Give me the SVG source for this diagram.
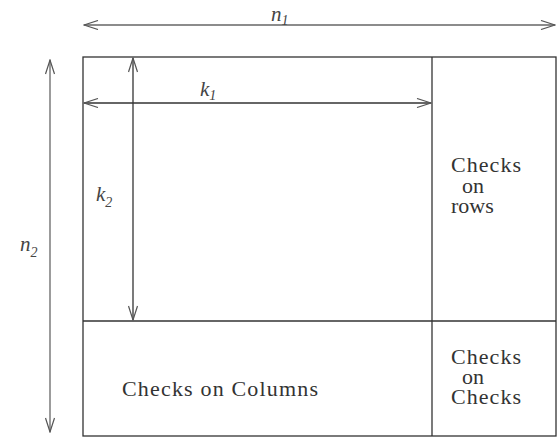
<svg xmlns="http://www.w3.org/2000/svg" width="558" height="440" viewBox="0 0 558 440">
<defs>
<marker id="ah" markerWidth="16" markerHeight="10" refX="15" refY="5" orient="auto-start-reverse" markerUnits="userSpaceOnUse">
<path d="M1,0.5 L15,5 L1,9.5" fill="none" stroke="#555" stroke-width="1.2"/>
</marker>
</defs>
<rect width="558" height="440" fill="#fff"/>
<g id="matrix" fill="none" stroke="#333" stroke-width="1.3">
<rect x="83" y="57" width="473" height="379"/>
<line x1="432" y1="57" x2="432" y2="436"/>
<line x1="83" y1="321" x2="556" y2="321"/>
</g>
<g id="rows" font-family="Liberation Serif, Times New Roman, serif" font-size="22" fill="#333">
<text x="451" y="172"><tspan textLength="70">Checks</tspan><tspan x="462" y="193">on</tspan><tspan x="451" y="213">rows</tspan></text>
</g>
<g id="columns" font-family="Liberation Serif, Times New Roman, serif" font-size="22" fill="#333">
<text x="122" y="396" textLength="196">Checks on Columns</text>
</g>
<g id="checks" font-family="Liberation Serif, Times New Roman, serif" font-size="22" fill="#333">
<text x="451" y="364"><tspan textLength="70">Checks</tspan><tspan x="462" y="384">on</tspan><tspan x="451" y="404" textLength="70">Checks</tspan></text>
</g>
<g id="connectors" fill="none" stroke-width="1.3">
<line stroke="#666" x1="84" y1="25" x2="555" y2="25" marker-start="url(#ah)" marker-end="url(#ah)"/>
<line stroke="#666" x1="50" y1="60" x2="50" y2="432" marker-start="url(#ah)" marker-end="url(#ah)"/>
<line stroke="#333" x1="84" y1="103" x2="431" y2="103" marker-start="url(#ah)" marker-end="url(#ah)"/>
<line stroke="#333" x1="133" y1="58" x2="133" y2="320" marker-start="url(#ah)" marker-end="url(#ah)"/>
</g>
<g id="labels" font-family="Liberation Serif, Times New Roman, serif" font-size="21" font-style="italic" fill="#444">
<text x="271" y="21">n<tspan font-size="14" dy="4">1</tspan></text>
<text x="200" y="96">k<tspan font-size="14" dy="4">1</tspan></text>
<text x="96" y="201">k<tspan font-size="14" dy="6">2</tspan></text>
<text x="20" y="251">n<tspan font-size="14" dy="6">2</tspan></text>
</g>
</svg>
